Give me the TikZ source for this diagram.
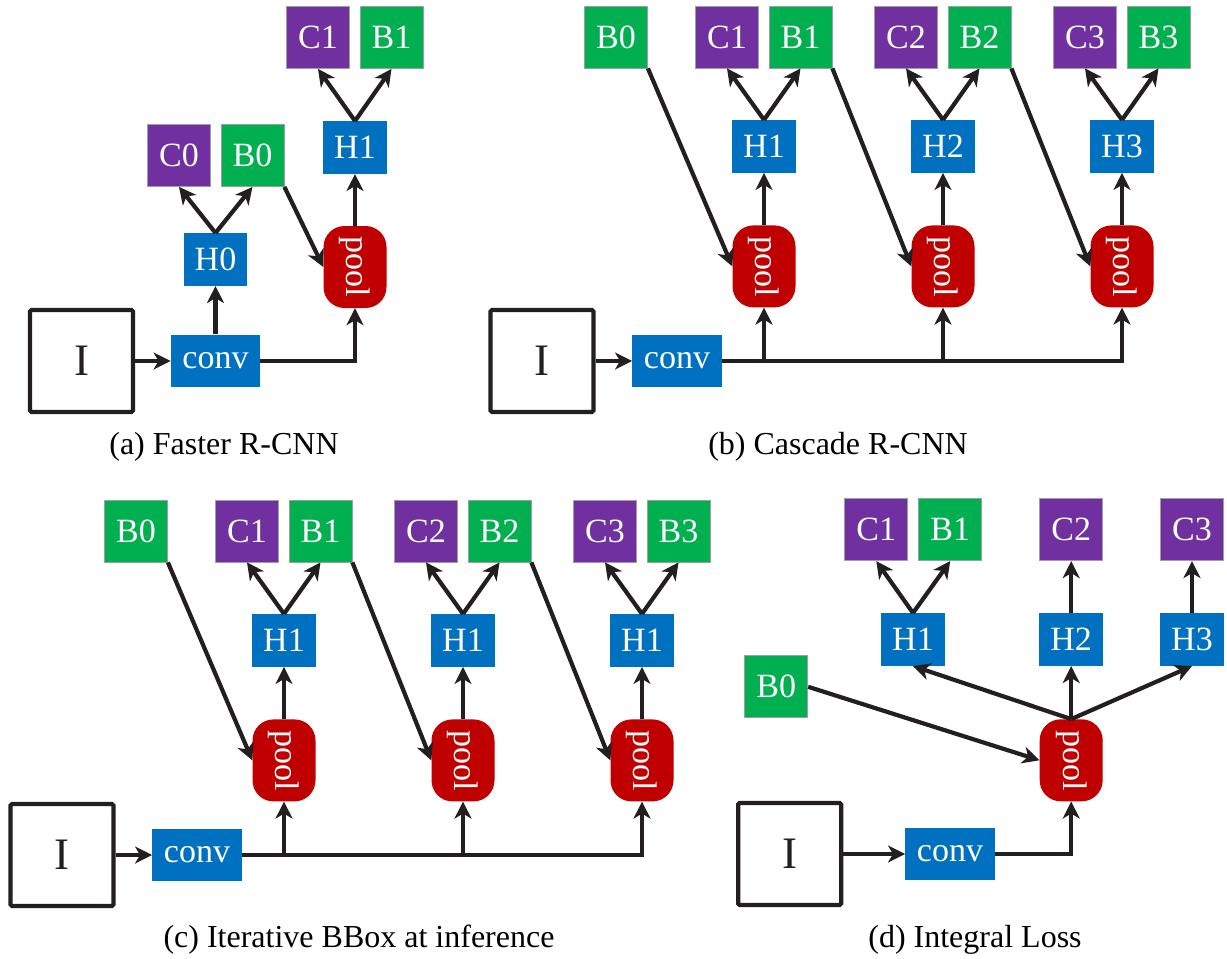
\documentclass[tikz,border=0pt]{standalone}
\usepackage{fontspec}
\usepackage{graphicx}
\setmainfont{Liberation Serif}
\usetikzlibrary{arrows.meta}

\definecolor{ink}{HTML}{231F20}
\definecolor{clsfill}{HTML}{7030A0}
\definecolor{regfill}{HTML}{00B050}
\definecolor{headfill}{HTML}{0070C0}
\definecolor{poolfill}{HTML}{C00000}

\tikzset{
  box/.style={inner sep=0pt, text=white, font=\fontsize{34}{37}\selectfont},
  clsnode/.style={box, fill=clsfill, draw=gray!75, line width=0.8pt,
                  minimum width=63pt, minimum height=62pt},
  regnode/.style={box, fill=regfill, draw=gray!75, line width=0.8pt,
                  minimum width=63pt, minimum height=62pt},
  headnode/.style={box, fill=headfill, minimum width=63.5pt, minimum height=52.7pt},
  convnode/.style={box, fill=headfill, minimum width=89.5pt, minimum height=52.7pt},
  poolnode/.style={box, fill=poolfill, rounded corners=21pt,
                   minimum width=63pt, minimum height=82pt},
  imgnode/.style={draw=ink, line width=4.2pt, rounded corners=1.5pt, inner sep=0pt,
                  minimum width=103pt, minimum height=102pt, text=ink,
                  font=\fontsize{45}{48}\selectfont},
  flow/.style={draw=ink, line width=4.2pt,
               -{Stealth[length=17pt,width=17pt,inset=5pt]}},
  caption/.style={inner sep=0pt, text=black, font=\fontsize{32}{34}\selectfont}
}

% Cascade of three pooled heads sharing one conv feature bus.
% #1 name prefix, #2 #3 #4 head labels, #5 shift of the row
\newcommand\cascaderow[5]{%
  \begin{scope}[shift={#5}]
    \node[imgnode]  (#1I)    at (542,361) {I};
    \node[convnode] (#1conv) at (677,361) {conv};
    \node[regnode]  (#1B0)   at (616,37) {B0};
    % stage 1
    \node[poolnode] (#1P1) at (764,266.4) {\rotatebox{-90}{pool}};
    \node[headnode] (#1H1) at (764,146.4) {#2};
    \node[clsnode]  (#1C1) at (727,37) {C1};
    \node[regnode]  (#1B1) at (800.5,37) {B1};
    % stage 2
    \node[poolnode] (#1P2) at (943,266.4) {\rotatebox{-90}{pool}};
    \node[headnode] (#1H2) at (943,146.4) {#3};
    \node[clsnode]  (#1C2) at (906,37) {C2};
    \node[regnode]  (#1B2) at (979.5,37) {B2};
    % stage 3
    \node[poolnode] (#1P3) at (1122,266.4) {\rotatebox{-90}{pool}};
    \node[headnode] (#1H3) at (1122,146.4) {#4};
    \node[clsnode]  (#1C3) at (1085,37) {C3};
    \node[regnode]  (#1B3) at (1158.5,37) {B3};
    % connectors
    \draw[flow] (#1I) -- (#1conv);
    \draw[flow] (#1conv.east) -| (#1P3.south);
    \draw[flow] (#1conv.east -| #1P1.south) -- (#1P1.south);
    \draw[flow] (#1conv.east -| #1P2.south) -- (#1P2.south);
    \draw[flow] (#1B0.south east) -- (#1P1.west);
    \draw[flow] (#1B1.south east) -- (#1P2.west);
    \draw[flow] (#1B2.south east) -- (#1P3.west);
    \draw[flow] (#1P1) -- (#1H1);
    \draw[flow] (#1P2) -- (#1H2);
    \draw[flow] (#1P3) -- (#1H3);
    \draw[flow] (#1H1.north) -- (#1C1.south);
    \draw[flow] (#1H1.north) -- (#1B1.south);
    \draw[flow] (#1H2.north) -- (#1C2.south);
    \draw[flow] (#1H2.north) -- (#1B2.south);
    \draw[flow] (#1H3.north) -- (#1C3.south);
    \draw[flow] (#1H3.north) -- (#1B3.south);
  \end{scope}}

\begin{document}
\begin{tikzpicture}[x=1pt, y=-1pt]
  \useasboundingbox (0,0) rectangle (1227,959);

  % (a) Faster R-CNN
  \node[imgnode]  (aI)    at (81.5,361) {I};
  \node[convnode] (aconv) at (215.5,361) {conv};
  \node[headnode] (aH0)   at (215.5,259.5) {H0};
  \node[clsnode]  (aC0)   at (179,155.5) {C0};
  \node[regnode]  (aB0)   at (252.5,155.5) {B0};
  \node[poolnode] (aP)    at (355,267) {\rotatebox{-90}{pool}};
  \node[headnode] (aH1)   at (355,147.5) {H1};
  \node[clsnode]  (aC1)   at (318,37.5) {C1};
  \node[regnode]  (aB1)   at (391.5,37.5) {B1};
  \draw[flow] (aI) -- (aconv);
  \draw[flow] (aconv) -- (aH0);
  \draw[flow] (aH0.north) -- (aC0.south);
  \draw[flow] (aH0.north) -- (aB0.south);
  \draw[flow] (aB0.south east) -- (aP.west);
  \draw[flow] (aconv.east) -| (aP.south);
  \draw[flow] (aP) -- (aH1);
  \draw[flow] (aH1.north) -- (aC1.south);
  \draw[flow] (aH1.north) -- (aB1.south);
  \node[caption] (capa) at (224,447) {(a) Faster R-CNN};

  % (b) Cascade R-CNN
  \cascaderow{b}{H1}{H2}{H3}{(0,0)}
  \node[caption] (capb) at (838,447) {(b) Cascade R-CNN};

  % (c) Iterative BBox at inference
  \cascaderow{c}{H1}{H1}{H1}{(-480,494)}
  \node[caption] (capc) at (359,940) {(c) Iterative BBox at inference};

  % (d) Integral Loss
  \node[imgnode]  (dI)    at (789.7,854) {I};
  \node[convnode] (dconv) at (950,854) {conv};
  \node[regnode]  (dB0)   at (776.3,686.8) {B0};
  \node[poolnode] (dP)    at (1071.2,760.3) {\rotatebox{-90}{pool}};
  \node[headnode] (dH1)   at (913,639.5) {H1};
  \node[headnode] (dH2)   at (1071.2,639.5) {H2};
  \node[headnode] (dH3)   at (1192,639.5) {H3};
  \node[clsnode]  (dC1)   at (876.3,529.7) {C1};
  \node[regnode]  (dB1)   at (950.2,529.7) {B1};
  \node[clsnode]  (dC2)   at (1071.2,529.7) {C2};
  \node[clsnode]  (dC3)   at (1192,529.7) {C3};
  \draw[flow] (dI) -- (dconv);
  \draw[flow] (dconv.east) -| (dP.south);
  \draw[flow] (dB0.east) -- (dP.west);
  \draw[flow] (dP.north) -- (dH1.south);
  \draw[flow] (dP.north) -- (dH2.south);
  \draw[flow] (dP.north) -- (dH3.south);
  \draw[flow] (dH1.north) -- (dC1.south);
  \draw[flow] (dH1.north) -- (dB1.south);
  \draw[flow] (dH2) -- (dC2);
  \draw[flow] (dH3) -- (dC3);
  \node[caption] (capd) at (975,940) {(d) Integral Loss};
\end{tikzpicture}
\end{document}
